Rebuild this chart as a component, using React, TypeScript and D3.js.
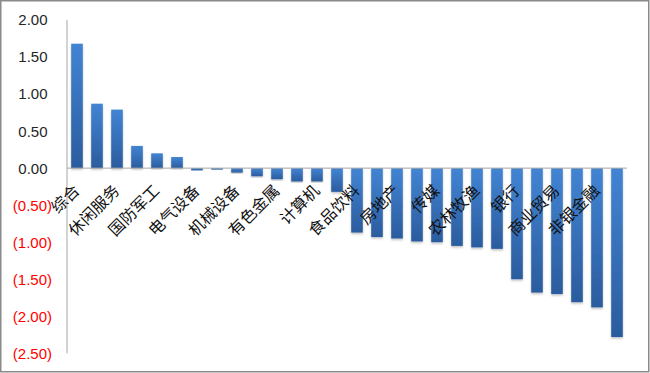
import { useEffect, useRef } from "react";
import * as d3 from "d3";

// 行业名称（只显示偶数位的标签，与原图一致）
const categories = [
  "综合", "家用电器", "休闲服务", "汽车", "国防军工", "通信", "电气设备",
  "电子", "机械设备", "化工", "有色金属", "医药生物", "计算机", "轻工制造",
  "食品饮料", "建筑材料", "房地产", "纺织服装", "传媒", "公用事业",
  "农林牧渔", "交通运输", "银行", "建筑装饰", "商业贸易", "钢铁",
  "非银金融", "采掘",
];
const values = [
  1.68, 0.87, 0.79, 0.3, 0.2, 0.15, -0.03, -0.02, -0.06, -0.11, -0.15,
  -0.18, -0.18, -0.32, -0.87, -0.93, -0.95, -0.99, -1.0, -1.05, -1.07,
  -1.09, -1.5, -1.68, -1.7, -1.81, -1.88, -2.28,
];
const yTicks = [2, 1.5, 1, 0.5, 0, -0.5, -1, -1.5, -2, -2.5];

const W = 650;
const H = 373;

export default function App() {
  const ref = useRef(null);

  useEffect(() => {
    draw();
  });

  function draw() {
    const svg = d3.select(ref.current);
    svg.selectAll("*").remove();

    const left = 67;
    const right = 627;
    const top = 20;
    const bottom = 353.3;

    const defs = svg.append("defs");
    const grad = defs
      .append("linearGradient")
      .attr("id", "barGrad")
      .attr("x1", 0)
      .attr("y1", 0)
      .attr("x2", 0)
      .attr("y2", 1);
    grad.append("stop").attr("offset", "0%").attr("stop-color", "#4284D3");
    grad.append("stop").attr("offset", "100%").attr("stop-color", "#2B5C9E");
    defs
      .append("filter")
      .attr("id", "shadow")
      .attr("x", "-20%")
      .attr("y", "-5%")
      .attr("width", "140%")
      .attr("height", "115%")
      .append("feDropShadow")
      .attr("dx", 0)
      .attr("dy", 1.5)
      .attr("stdDeviation", 1)
      .attr("flood-color", "#000")
      .attr("flood-opacity", 0.25);

    svg
      .append("rect")
      .attr("x", 0)
      .attr("y", 0)
      .attr("width", W)
      .attr("height", H)
      .attr("fill", "#fff");

    const x = d3
      .scaleBand()
      .domain(categories)
      .range([left, right])
      .paddingInner(0.42)
      .paddingOuter(0.21);
    const y = d3.scaleLinear().domain([-2.5, 2]).range([bottom, top]);

    // bars
    svg
      .append("g")
      .selectAll("rect")
      .data(values)
      .enter()
      .append("rect")
      .attr("x", (d, i) => x(categories[i])!)
      .attr("y", (d) => Math.min(y(d), y(0)))
      .attr("width", x.bandwidth())
      .attr("height", (d) => Math.abs(y(d) - y(0)))
      .attr("fill", "url(#barGrad)")
      .attr("filter", "url(#shadow)");

    // axes lines
    svg
      .append("line")
      .attr("x1", left)
      .attr("x2", left)
      .attr("y1", top)
      .attr("y2", bottom)
      .attr("stroke", "#a6a6a6")
      .attr("stroke-width", 1);
    svg
      .append("line")
      .attr("x1", left)
      .attr("x2", right)
      .attr("y1", y(0))
      .attr("y2", y(0))
      .attr("stroke", "#a6a6a6")
      .attr("stroke-width", 1);

    // y tick labels
    svg
      .append("g")
      .selectAll("text")
      .data(yTicks)
      .enter()
      .append("text")
      .attr("x", (d) => (d < 0 ? 52 : 47.5))
      .attr("y", (d) => y(d))
      .attr("dy", "0.36em")
      .attr("text-anchor", "end")
      .attr("font-family", "Liberation Sans, Arial, sans-serif")
      .attr("font-size", 15)
      .attr("fill", (d) => (d < 0 ? "#ff0000" : "#262626"))
      .text((d) => (d < 0 ? "(" + d3.format(".2f")(-d) + ")" : d3.format(".2f")(d)));

    // category labels, every other one, rotated
    svg
      .append("g")
      .selectAll("text")
      .data(categories.filter((c, i) => i % 2 === 0))
      .enter()
      .append("text")
      .attr(
        "transform",
        (d) => "translate(" + (x(d)! + x.bandwidth() / 2 - 6) + "," + 182 + ")rotate(-45)"
      )
      .attr("dy", "0.85em")
      .attr("text-anchor", "end")
      .attr("font-family", "Noto Sans CJK SC, sans-serif")
      .attr("font-size", 16)
      .attr("fill", "#111")
      .text((d) => d);

    // outer frame
    svg
      .append("rect")
      .attr("x", 0.75)
      .attr("y", 0.75)
      .attr("width", W - 2)
      .attr("height", H - 2)
      .attr("fill", "none")
      .attr("stroke", "#8a8a8a")
      .attr("stroke-width", 1.5);
  }

  return (
    <svg
      ref={ref}
      width={W}
      height={H}
      style={{ position: "absolute", left: 0, top: 0 }}
    ></svg>
  );
}
